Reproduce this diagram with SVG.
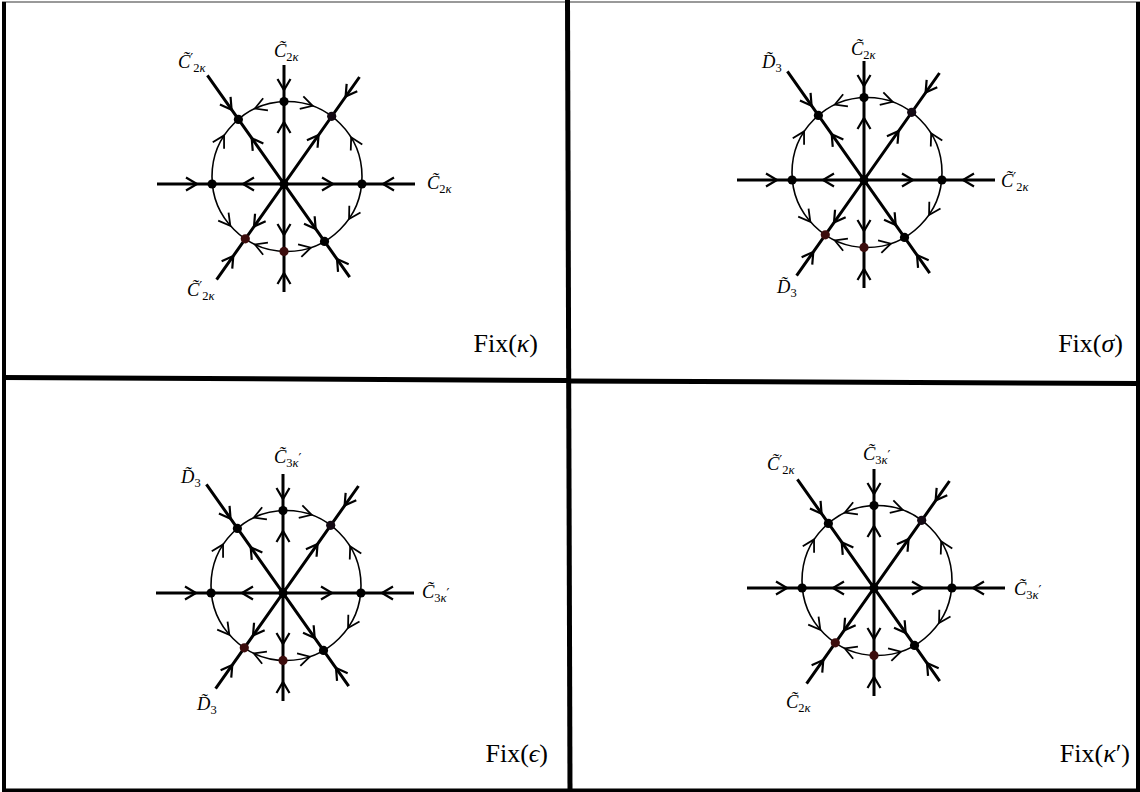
<svg xmlns="http://www.w3.org/2000/svg" xmlns:xlink="http://www.w3.org/1999/xlink" width="1140" height="792" viewBox="0 0 1140 792">
<style>
.ray{stroke:#000;stroke-width:3;fill:none}
.orb{stroke:#000;stroke-width:1.6;fill:none}
.ch{stroke:#000;stroke-width:2.2;fill:none;stroke-linejoin:miter}
.cs{stroke:#000;stroke-width:1.8;fill:none;stroke-linejoin:miter}
.dot{fill:#000}
.dr{fill:#3c0d0d}
.dp{fill:#140a14}
.frame{stroke:#000;fill:none}
.m{font-family:"Liberation Serif","DejaVu Serif",serif;font-style:italic;font-size:18.5px;fill:#000}
.s{font-style:normal;font-size:12.5px}
.pr{font-family:"DejaVu Serif",serif;font-style:normal;font-size:13px}
.i{font-style:italic}
.fx{font-family:"Liberation Serif","DejaVu Serif",serif;font-size:26px;fill:#000}
</style>
<defs>
<path id="ch" class="ch" d="M-6,-6.5L5,0L-6,6.5"/>
<path id="cs" class="cs" d="M-6.5,-6.5L5,0L-6.5,6.5"/>
</defs>
<rect width="1140" height="792" fill="#fff"/>
<g id="frame">
<line x1="2" y1="2" x2="1140" y2="2" style="stroke:#777;stroke-width:1.5"/>
<line class="frame" x1="4" y1="2" x2="4" y2="792" stroke-width="4"/>
<line class="frame" x1="1138" y1="2" x2="1138" y2="792" stroke-width="4"/>
<line class="frame" x1="2" y1="790.5" x2="1140" y2="790.5" stroke-width="4"/>
<line class="frame" x1="2" y1="377.5" x2="569" y2="380.5" stroke-width="5"/>
<line class="frame" x1="568" y1="381" x2="1140" y2="383.5" stroke-width="5"/>
<line class="frame" x1="567.5" y1="0" x2="570" y2="792" stroke-width="5"/>
</g>

<!-- Panel 1 -->
<g id="p1" transform="translate(284,184)">
<g id="p1-connectors">
<circle class="orb" cx="3" cy="-7.5" r="75"/>
<path class="ray" d="M0,-119V108M-127,0H131M-76.6,-108.7L65.7,93.1M75.5,-107L-67.4,95.6"/>
<use xlink:href="#ch" transform="translate(0,-99) rotate(90)"/>
<use xlink:href="#ch" transform="translate(0,-57) rotate(-90)"/>
<use xlink:href="#ch" transform="translate(0,46) rotate(90)"/>
<use xlink:href="#ch" transform="translate(0,94) rotate(-90)"/>
<use xlink:href="#ch" transform="translate(-92,0)"/>
<use xlink:href="#ch" transform="translate(-36,0) rotate(180)"/>
<use xlink:href="#ch" transform="translate(44,0)"/>
<use xlink:href="#ch" transform="translate(104,0) rotate(180)"/>
<use xlink:href="#ch" transform="translate(-55.3,-78.4) rotate(54.8)"/>
<use xlink:href="#ch" transform="translate(-29.4,-41.7) rotate(-125.2)"/>
<use xlink:href="#ch" transform="translate(64.5,-91.5) rotate(125.2)"/>
<use xlink:href="#ch" transform="translate(31.7,-44.9) rotate(-54.8)"/>
<use xlink:href="#ch" transform="translate(28.8,40.9) rotate(54.8)"/>
<use xlink:href="#ch" transform="translate(55.9,79.2) rotate(-125.2)"/>
<use xlink:href="#ch" transform="translate(-27.1,38.4) rotate(125.2)"/>
<use xlink:href="#ch" transform="translate(-53.6,76) rotate(-54.8)"/>
<use xlink:href="#cs" transform="translate(-24.5,-77.3) rotate(158.5)"/>
<use xlink:href="#cs" transform="translate(23.8,-79.6) rotate(16.1)"/>
<use xlink:href="#cs" transform="translate(69.5,-42.2) rotate(-117.6)"/>
<use xlink:href="#cs" transform="translate(-62.4,-44.2) rotate(-60.7)"/>
<use xlink:href="#cs" transform="translate(-56.7,37.8) rotate(52.8)"/>
<use xlink:href="#cs" transform="translate(67.6,30.7) rotate(120.6)"/>
<use xlink:href="#cs" transform="translate(-24.5,62.3) rotate(201.5)"/>
<use xlink:href="#cs" transform="translate(22,65) rotate(-14.7)"/>
</g>
<g id="p1-center"><circle class="dot" cx="0" cy="0" r="4.6"/></g>
<g id="p1-top"><circle class="dot" cx="0" cy="-82.4" r="4.6"/></g>
<g id="p1-ne"><circle class="dp" cx="47.7" cy="-67.7" r="4.6"/></g>
<g id="p1-right"><circle class="dot" cx="77.9" cy="0" r="4.6"/></g>
<g id="p1-se"><circle class="dot" cx="40.5" cy="57.4" r="4.6"/></g>
<g id="p1-bottom"><circle class="dr" cx="0" cy="67.4" r="4.6"/></g>
<g id="p1-sw"><circle class="dr" cx="-38.7" cy="54.8" r="4.6"/></g>
<g id="p1-left"><circle class="dot" cx="-71.9" cy="0" r="4.6"/></g>
<g id="p1-nw"><circle class="dot" cx="-45.6" cy="-64.6" r="4.6"/></g>
</g>
<g id="p1-labels">
<text class="m" x="178" y="68">C̃<tspan class="pr" dy="-5">′</tspan><tspan class="s" dy="9">2<tspan class="i">κ</tspan></tspan></text>
<text class="m" x="274" y="57">C̃<tspan class="s" dy="4">2<tspan class="i">κ</tspan></tspan></text>
<text class="m" x="427" y="189">C̃<tspan class="s" dy="4">2<tspan class="i">κ</tspan></tspan></text>
<text class="m" x="187" y="296">C̃<tspan class="pr" dy="-5">′</tspan><tspan class="s" dy="9">2<tspan class="i">κ</tspan></tspan></text>
<text class="fx" x="538" y="352" text-anchor="end">Fix(<tspan class="i">κ</tspan>)</text>
</g>

<!-- Panel 2 -->
<g id="p2" transform="translate(864,180)">
<g id="p2-connectors">
<circle class="orb" cx="3" cy="-7.5" r="75"/>
<path class="ray" d="M0,-119V108M-127,0H131M-76.6,-108.7L65.7,93.1M75.5,-107L-67.4,95.6"/>
<use xlink:href="#ch" transform="translate(0,-99) rotate(90)"/>
<use xlink:href="#ch" transform="translate(0,-57) rotate(-90)"/>
<use xlink:href="#ch" transform="translate(0,46) rotate(90)"/>
<use xlink:href="#ch" transform="translate(0,94) rotate(-90)"/>
<use xlink:href="#ch" transform="translate(-92,0)"/>
<use xlink:href="#ch" transform="translate(-36,0) rotate(180)"/>
<use xlink:href="#ch" transform="translate(44,0)"/>
<use xlink:href="#ch" transform="translate(104,0) rotate(180)"/>
<use xlink:href="#ch" transform="translate(-55.3,-78.4) rotate(54.8)"/>
<use xlink:href="#ch" transform="translate(-29.4,-41.7) rotate(-125.2)"/>
<use xlink:href="#ch" transform="translate(64.5,-91.5) rotate(125.2)"/>
<use xlink:href="#ch" transform="translate(31.7,-44.9) rotate(-54.8)"/>
<use xlink:href="#ch" transform="translate(28.8,40.9) rotate(54.8)"/>
<use xlink:href="#ch" transform="translate(55.9,79.2) rotate(-125.2)"/>
<use xlink:href="#ch" transform="translate(-27.1,38.4) rotate(125.2)"/>
<use xlink:href="#ch" transform="translate(-53.6,76) rotate(-54.8)"/>
<use xlink:href="#cs" transform="translate(-24.5,-77.3) rotate(158.5)"/>
<use xlink:href="#cs" transform="translate(23.8,-79.6) rotate(16.1)"/>
<use xlink:href="#cs" transform="translate(69.5,-42.2) rotate(-117.6)"/>
<use xlink:href="#cs" transform="translate(-62.4,-44.2) rotate(-60.7)"/>
<use xlink:href="#cs" transform="translate(-56.7,37.8) rotate(52.8)"/>
<use xlink:href="#cs" transform="translate(67.6,30.7) rotate(120.6)"/>
<use xlink:href="#cs" transform="translate(-24.5,62.3) rotate(201.5)"/>
<use xlink:href="#cs" transform="translate(22,65) rotate(-14.7)"/>
</g>
<g id="p2-center"><circle class="dot" cx="0" cy="0" r="4.6"/></g>
<g id="p2-top"><circle class="dot" cx="0" cy="-82.4" r="4.6"/></g>
<g id="p2-ne"><circle class="dp" cx="47.7" cy="-67.7" r="4.6"/></g>
<g id="p2-right"><circle class="dot" cx="77.9" cy="0" r="4.6"/></g>
<g id="p2-se"><circle class="dot" cx="40.5" cy="57.4" r="4.6"/></g>
<g id="p2-bottom"><circle class="dr" cx="0" cy="67.4" r="4.6"/></g>
<g id="p2-sw"><circle class="dr" cx="-38.7" cy="54.8" r="4.6"/></g>
<g id="p2-left"><circle class="dot" cx="-71.9" cy="0" r="4.6"/></g>
<g id="p2-nw"><circle class="dot" cx="-45.6" cy="-64.6" r="4.6"/></g>
</g>
<g id="p2-labels">
<text class="m" x="762" y="68">D̃<tspan class="s" dy="4">3</tspan></text>
<text class="m" x="851" y="55">C̃<tspan class="s" dy="4">2<tspan class="i">κ</tspan></tspan></text>
<text class="m" x="1001" y="187">C̃<tspan class="pr" dy="-5">′</tspan><tspan class="s" dy="9">2<tspan class="i">κ</tspan></tspan></text>
<text class="m" x="777" y="293">D̃<tspan class="s" dy="4">3</tspan></text>
<text class="fx" x="1123" y="352" text-anchor="end">Fix(<tspan class="i">σ</tspan>)</text>
</g>

<!-- Panel 3 -->
<g id="p3" transform="translate(283,593)">
<g id="p3-connectors">
<circle class="orb" cx="3" cy="-7.5" r="75"/>
<path class="ray" d="M0,-119V108M-127,0H131M-76.6,-108.7L65.7,93.1M75.5,-107L-67.4,95.6"/>
<use xlink:href="#ch" transform="translate(0,-99) rotate(90)"/>
<use xlink:href="#ch" transform="translate(0,-57) rotate(-90)"/>
<use xlink:href="#ch" transform="translate(0,46) rotate(90)"/>
<use xlink:href="#ch" transform="translate(0,94) rotate(-90)"/>
<use xlink:href="#ch" transform="translate(-92,0)"/>
<use xlink:href="#ch" transform="translate(-36,0) rotate(180)"/>
<use xlink:href="#ch" transform="translate(44,0)"/>
<use xlink:href="#ch" transform="translate(104,0) rotate(180)"/>
<use xlink:href="#ch" transform="translate(-55.3,-78.4) rotate(54.8)"/>
<use xlink:href="#ch" transform="translate(-29.4,-41.7) rotate(-125.2)"/>
<use xlink:href="#ch" transform="translate(64.5,-91.5) rotate(125.2)"/>
<use xlink:href="#ch" transform="translate(31.7,-44.9) rotate(-54.8)"/>
<use xlink:href="#ch" transform="translate(28.8,40.9) rotate(54.8)"/>
<use xlink:href="#ch" transform="translate(55.9,79.2) rotate(-125.2)"/>
<use xlink:href="#ch" transform="translate(-27.1,38.4) rotate(125.2)"/>
<use xlink:href="#ch" transform="translate(-53.6,76) rotate(-54.8)"/>
<use xlink:href="#cs" transform="translate(-24.5,-77.3) rotate(158.5)"/>
<use xlink:href="#cs" transform="translate(23.8,-79.6) rotate(16.1)"/>
<use xlink:href="#cs" transform="translate(69.5,-42.2) rotate(-117.6)"/>
<use xlink:href="#cs" transform="translate(-62.4,-44.2) rotate(-60.7)"/>
<use xlink:href="#cs" transform="translate(-56.7,37.8) rotate(52.8)"/>
<use xlink:href="#cs" transform="translate(67.6,30.7) rotate(120.6)"/>
<use xlink:href="#cs" transform="translate(-24.5,62.3) rotate(201.5)"/>
<use xlink:href="#cs" transform="translate(22,65) rotate(-14.7)"/>
</g>
<g id="p3-center"><circle class="dot" cx="0" cy="0" r="4.6"/></g>
<g id="p3-top"><circle class="dot" cx="0" cy="-82.4" r="4.6"/></g>
<g id="p3-ne"><circle class="dp" cx="47.7" cy="-67.7" r="4.6"/></g>
<g id="p3-right"><circle class="dot" cx="77.9" cy="0" r="4.6"/></g>
<g id="p3-se"><circle class="dot" cx="40.5" cy="57.4" r="4.6"/></g>
<g id="p3-bottom"><circle class="dr" cx="0" cy="67.4" r="4.6"/></g>
<g id="p3-sw"><circle class="dr" cx="-38.7" cy="54.8" r="4.6"/></g>
<g id="p3-left"><circle class="dot" cx="-71.9" cy="0" r="4.6"/></g>
<g id="p3-nw"><circle class="dot" cx="-45.6" cy="-64.6" r="4.6"/></g>
</g>
<g id="p3-labels">
<text class="m" x="181" y="483">D̃<tspan class="s" dy="4">3</tspan></text>
<text class="m" x="274" y="463">C̃<tspan class="s" dy="4">3<tspan class="i">κ</tspan></tspan><tspan class="pr" dy="-4">′</tspan></text>
<text class="m" x="422" y="598">C̃<tspan class="s" dy="4">3<tspan class="i">κ</tspan></tspan><tspan class="pr" dy="-4">′</tspan></text>
<text class="m" x="197" y="710">D̃<tspan class="s" dy="4">3</tspan></text>
<text class="fx" x="548" y="762" text-anchor="end">Fix(<tspan class="i">ϵ</tspan>)</text>
</g>

<!-- Panel 4 -->
<g id="p4" transform="translate(874,588)">
<g id="p4-connectors">
<circle class="orb" cx="3" cy="-7.5" r="75"/>
<path class="ray" d="M0,-119V108M-127,0H131M-76.6,-108.7L65.7,93.1M75.5,-107L-67.4,95.6"/>
<use xlink:href="#ch" transform="translate(0,-99) rotate(90)"/>
<use xlink:href="#ch" transform="translate(0,-57) rotate(-90)"/>
<use xlink:href="#ch" transform="translate(0,46) rotate(90)"/>
<use xlink:href="#ch" transform="translate(0,94) rotate(-90)"/>
<use xlink:href="#ch" transform="translate(-92,0)"/>
<use xlink:href="#ch" transform="translate(-36,0) rotate(180)"/>
<use xlink:href="#ch" transform="translate(44,0)"/>
<use xlink:href="#ch" transform="translate(104,0) rotate(180)"/>
<use xlink:href="#ch" transform="translate(-55.3,-78.4) rotate(54.8)"/>
<use xlink:href="#ch" transform="translate(-29.4,-41.7) rotate(-125.2)"/>
<use xlink:href="#ch" transform="translate(64.5,-91.5) rotate(125.2)"/>
<use xlink:href="#ch" transform="translate(31.7,-44.9) rotate(-54.8)"/>
<use xlink:href="#ch" transform="translate(28.8,40.9) rotate(54.8)"/>
<use xlink:href="#ch" transform="translate(55.9,79.2) rotate(-125.2)"/>
<use xlink:href="#ch" transform="translate(-27.1,38.4) rotate(125.2)"/>
<use xlink:href="#ch" transform="translate(-53.6,76) rotate(-54.8)"/>
<use xlink:href="#cs" transform="translate(-24.5,-77.3) rotate(158.5)"/>
<use xlink:href="#cs" transform="translate(23.8,-79.6) rotate(16.1)"/>
<use xlink:href="#cs" transform="translate(69.5,-42.2) rotate(-117.6)"/>
<use xlink:href="#cs" transform="translate(-62.4,-44.2) rotate(-60.7)"/>
<use xlink:href="#cs" transform="translate(-56.7,37.8) rotate(52.8)"/>
<use xlink:href="#cs" transform="translate(67.6,30.7) rotate(120.6)"/>
<use xlink:href="#cs" transform="translate(-24.5,62.3) rotate(201.5)"/>
<use xlink:href="#cs" transform="translate(22,65) rotate(-14.7)"/>
</g>
<g id="p4-center"><circle class="dot" cx="0" cy="0" r="4.6"/></g>
<g id="p4-top"><circle class="dot" cx="0" cy="-82.4" r="4.6"/></g>
<g id="p4-ne"><circle class="dp" cx="47.7" cy="-67.7" r="4.6"/></g>
<g id="p4-right"><circle class="dot" cx="77.9" cy="0" r="4.6"/></g>
<g id="p4-se"><circle class="dot" cx="40.5" cy="57.4" r="4.6"/></g>
<g id="p4-bottom"><circle class="dr" cx="0" cy="67.4" r="4.6"/></g>
<g id="p4-sw"><circle class="dr" cx="-38.7" cy="54.8" r="4.6"/></g>
<g id="p4-left"><circle class="dot" cx="-71.9" cy="0" r="4.6"/></g>
<g id="p4-nw"><circle class="dot" cx="-45.6" cy="-64.6" r="4.6"/></g>
</g>
<g id="p4-labels">
<text class="m" x="767" y="470">C̃<tspan class="pr" dy="-5">′</tspan><tspan class="s" dy="9">2<tspan class="i">κ</tspan></tspan></text>
<text class="m" x="863" y="460">C̃<tspan class="s" dy="4">3<tspan class="i">κ</tspan></tspan><tspan class="pr" dy="-4">′</tspan></text>
<text class="m" x="1014" y="595">C̃<tspan class="s" dy="4">3<tspan class="i">κ</tspan></tspan><tspan class="pr" dy="-4">′</tspan></text>
<text class="m" x="786" y="708">C̃<tspan class="s" dy="4">2<tspan class="i">κ</tspan></tspan></text>
<text class="fx" x="1130" y="762" text-anchor="end">Fix(<tspan class="i">κ</tspan>′)</text>
</g>
</svg>
